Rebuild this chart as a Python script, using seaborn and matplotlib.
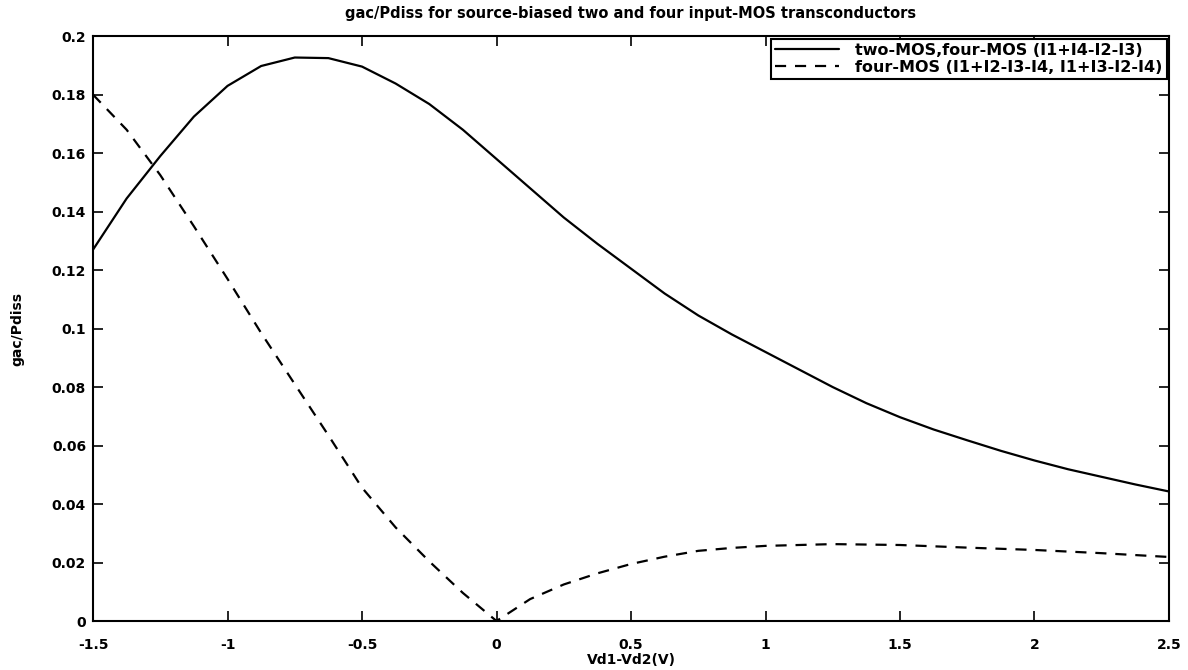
import numpy as np
import pandas as pd
import matplotlib
matplotlib.use("Agg")
import matplotlib.pyplot as plt
import seaborn as sns

# ---- data ----
x_solid = [-1.5, -1.375, -1.25, -1.125, -1.0, -0.875, -0.75, -0.625, -0.5, -0.375,
           -0.25, -0.125, 0.0, 0.125, 0.25, 0.375, 0.5, 0.625, 0.75, 0.875,
           1.0, 1.125, 1.25, 1.375, 1.5, 1.625, 1.75, 1.875, 2.0, 2.125,
           2.25, 2.375, 2.5]
y_solid = [0.127, 0.1445, 0.159, 0.1725, 0.183, 0.1898, 0.1927, 0.1925, 0.1896, 0.1838,
           0.1768, 0.168, 0.158, 0.148, 0.138, 0.129, 0.1205, 0.112, 0.1045, 0.098,
           0.092, 0.086, 0.080, 0.0745, 0.0697, 0.0655, 0.0618, 0.0582, 0.0549, 0.0519,
           0.0493, 0.0467, 0.0443]

x_dash = [-1.5, -1.375, -1.25, -1.125, -1.0, -0.875, -0.75, -0.625, -0.5, -0.375,
          -0.25, -0.125, 0.0, 0.125, 0.25, 0.375, 0.5, 0.625, 0.75, 0.875,
          1.0, 1.25, 1.5, 1.75, 2.0, 2.25, 2.5]
y_dash = [0.180, 0.168, 0.1525, 0.135, 0.117, 0.0985, 0.081, 0.0635, 0.0456, 0.032,
          0.0204, 0.0096, 0.0, 0.0075, 0.0125, 0.0163, 0.0195, 0.022, 0.024, 0.025,
          0.0257, 0.0263, 0.026, 0.0251, 0.0243, 0.0232, 0.0219]

series_names = ["two-MOS,four-MOS (I1+I4-I2-I3)",
                "four-MOS (I1+I2-I3-I4, I1+I3-I2-I4)"]

x_ticks = [-1.5, -1, -0.5, 0, 0.5, 1, 1.5, 2, 2.5]
x_ticklabels = ["-1.5", "-1", "-0.5", "0", "0.5", "1", "1.5", "2", "2.5"]
y_ticks = [0, 0.02, 0.04, 0.06, 0.08, 0.1, 0.12, 0.14, 0.16, 0.18, 0.2]
y_ticklabels = ["0", "0.02", "0.04", "0.06", "0.08", "0.1", "0.12", "0.14", "0.16", "0.18", "0.2"]

title = "gac/Pdiss for source-biased two and four input-MOS transconductors"
xlabel = "Vd1-Vd2(V)"
ylabel = "gac/Pdiss"

df = pd.concat([
    pd.DataFrame({"x": x_solid, "y": y_solid, "series": series_names[0]}),
    pd.DataFrame({"x": x_dash, "y": y_dash, "series": series_names[1]}),
], ignore_index=True)

sns.set_theme(style="ticks")
plt.rcParams['font.family'] = ['DejaVu Sans']
plt.rcParams['font.weight'] = 'bold'
plt.rcParams['text.color'] = 'black'
plt.rcParams['axes.labelcolor'] = 'black'
plt.rcParams['xtick.color'] = 'black'
plt.rcParams['ytick.color'] = 'black'

fig = plt.figure(figsize=(11.88, 6.70), dpi=100)
ax = fig.add_axes([0.0783, 0.0731, 0.984 - 0.0783, 0.946 - 0.0731])

sns.lineplot(data=df, x="x", y="y", hue="series", style="series",
             palette={series_names[0]: "black", series_names[1]: "black"},
             dashes={series_names[0]: "", series_names[1]: (5, 4)},
             linewidth=1.6, ax=ax, sort=False, estimator=None)

ax.set_xlim(-1.5, 2.5)
ax.set_ylim(0, 0.2)
ax.set_xticks(x_ticks)
ax.set_xticklabels(x_ticklabels, fontsize=10, fontweight='bold', color='black')
ax.set_yticks(y_ticks)
ax.set_yticklabels(y_ticklabels, fontsize=10, fontweight='bold', color='black')
ax.tick_params(direction='in', length=7, width=1.2, top=True, right=True, color='black')
ax.tick_params(axis='x', pad=12)
ax.tick_params(axis='y', pad=5)
for s in ax.spines.values():
    s.set_visible(True)
    s.set_linewidth(1.5)
    s.set_color('black')

ax.set_title(title, fontsize=10.5, fontweight='bold', pad=13, color='black')
ax.set_xlabel(xlabel, fontsize=10, fontweight='bold', labelpad=1, color='black')
ax.set_ylabel(ylabel, fontsize=10, fontweight='bold', labelpad=20, color='black')

leg = ax.legend(loc='upper right', borderaxespad=0.15, fancybox=False, framealpha=1,
                edgecolor='black', handlelength=4.0, borderpad=0.25,
                labelspacing=0.15, handletextpad=1.0,
                prop={'weight': 'bold', 'size': 11.5})
leg.get_frame().set_linewidth(1.5)
for t in leg.get_texts():
    t.set_color('black')

fig.savefig("out.png", dpi=100, facecolor='white')
